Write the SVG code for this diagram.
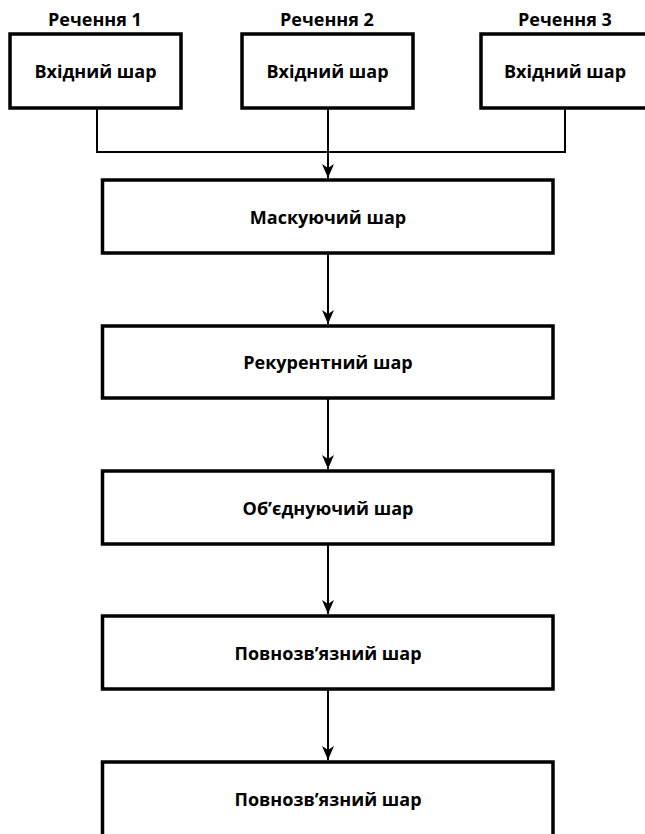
<svg xmlns="http://www.w3.org/2000/svg" width="645" height="834" viewBox="0 0 645 834">
<defs>
<marker id="arr" markerWidth="14" markerHeight="12" refX="14" refY="6" orient="auto" markerUnits="userSpaceOnUse" viewBox="0 0 14 12">
<path d="M0,0 L14,6 L0,12 L4,6 Z" fill="#000"/>
</marker>
</defs>
<style>
.box{fill:#fff;stroke:#000;stroke-width:3.5}
.t{font-family:"Open Sans","Liberation Sans",sans-serif;font-weight:bold;font-size:18px;fill:#000;text-anchor:middle}
.c{fill:none;stroke:#000;stroke-width:2}
</style>
<rect width="645" height="834" fill="#fff"/>
<g id="s1">
<text class="t" x="95" y="26">Речення 1</text>
<rect class="box" x="10" y="34" width="171" height="74"/>
<text class="t" x="95.5" y="78">Вхідний шар</text>
</g>
<g id="s2">
<text class="t" x="327" y="26">Речення 2</text>
<rect class="box" x="242" y="34" width="171" height="74"/>
<text class="t" x="327.5" y="78">Вхідний шар</text>
</g>
<g id="s3">
<text class="t" x="565" y="26">Речення 3</text>
<rect class="box" x="481" y="34" width="170" height="74"/>
<text class="t" x="565" y="78">Вхідний шар</text>
</g>
<g id="n1">
<rect class="box" x="102.5" y="180" width="450.5" height="73"/>
<text class="t" x="328" y="224">Маскуючий шар</text>
</g>
<g id="n2">
<rect class="box" x="102.5" y="326" width="450.5" height="72"/>
<text class="t" x="328" y="369">Рекурентний шар</text>
</g>
<g id="n3">
<rect class="box" x="102.5" y="471" width="450.5" height="73"/>
<text class="t" x="328" y="515">Об’єднуючий шар</text>
</g>
<g id="n4">
<rect class="box" x="102.5" y="616" width="450.5" height="73"/>
<text class="t" x="328" y="660">Повнозв’язний шар</text>
</g>
<g id="n5">
<rect class="box" x="102.5" y="762" width="450.5" height="74"/>
<text class="t" x="328" y="806">Повнозв’язний шар</text>
</g>
<g id="connectors">
<polyline class="c" points="97,108 97,152 565,152 565,108"/>
<line class="c" x1="328" y1="108" x2="328" y2="178" marker-end="url(#arr)"/>
<line class="c" x1="328" y1="253" x2="328" y2="324" marker-end="url(#arr)"/>
<line class="c" x1="328" y1="398" x2="328" y2="469" marker-end="url(#arr)"/>
<line class="c" x1="328" y1="544" x2="328" y2="614" marker-end="url(#arr)"/>
<line class="c" x1="328" y1="689" x2="328" y2="760" marker-end="url(#arr)"/>
</g>
</svg>
